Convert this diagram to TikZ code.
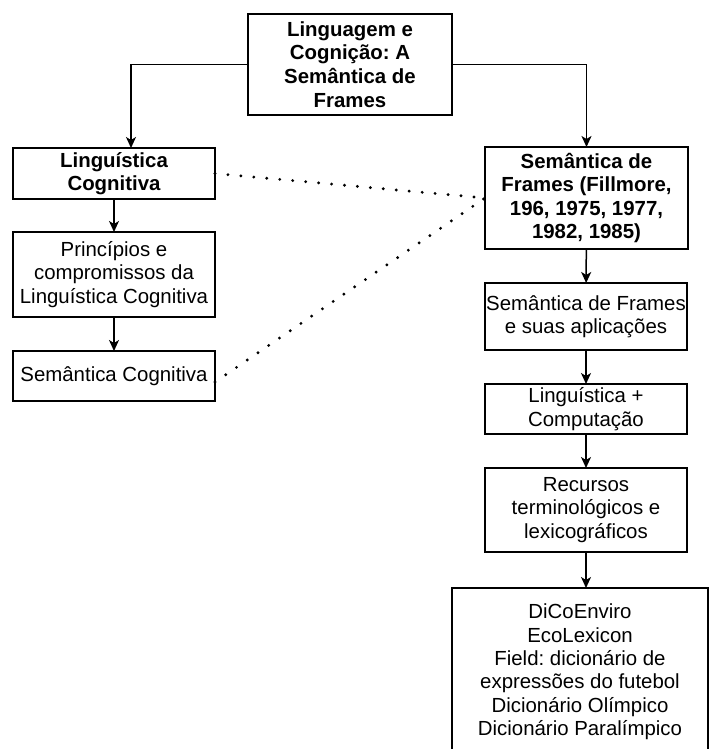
\documentclass[tikz,border=0pt]{standalone}
\usepackage{fontspec}
\setmainfont{Liberation Sans}
\usetikzlibrary{arrows.meta}
\frenchspacing
\begin{document}
\begin{tikzpicture}[x=1pt,y=-1pt,
  box/.style={draw, line width=1.5pt, rectangle, inner sep=0pt, outer sep=0pt,
    align=center, font=\fontsize{20.4}{23.4}\selectfont},
  boldbox/.style={box, font=\fontsize{20.4}{23.6}\selectfont\bfseries},
  flow/.style={line width=1.5pt, -{Stealth[length=11pt,width=10pt,inset=3pt]}},
  link/.style={line width=3.2pt, line cap=round, dash pattern=on 0pt off 13pt}]
\useasboundingbox (0,0) rectangle (710,749);
\fill[white] (0,0) rectangle (710,749);
\begin{scope}
\clip (0,0) rectangle (710,749);

% main topic
\node[boldbox, minimum width=204pt, minimum height=101pt] (top) at (350,64.5)
  {Linguagem e\\Cognição: A\\Semântica de\\Frames};

% left branch
\node[boldbox, minimum width=202pt, minimum height=51pt] (lc) at (114,173.5)
  {Linguística\\Cognitiva};
\node[box, minimum width=202pt, minimum height=85pt] (pc) at (114,274.5)
  {Princípios e\\compromissos da\\Linguística Cognitiva};
\node[box, minimum width=202pt, minimum height=50pt] (sc) at (114,376)
  {Semântica Cognitiva};

% right branch
\node[boldbox, minimum width=203pt, minimum height=102pt] (sf) at (586.5,198)
  {Semântica de\\Frames (Fillmore,\\196, 1975, 1977,\\1982, 1985)};
\node[box, minimum width=202pt, minimum height=67pt] (ap) at (586,316.5)
  {Semântica de Frames\\e suas aplicações};
\node[box, minimum width=202pt, minimum height=50pt] (lcomp) at (586,409)
  {Linguística +\\Computação};
\node[box, minimum width=202pt, minimum height=84pt] (rec) at (586,510)
  {Recursos\\terminológicos e\\lexicográficos};
\node[box, minimum width=256pt, minimum height=168pt, anchor=north west] (dic) at (452,588)
  {DiCoEnviro\\EcoLexicon\\Field: dicionário de\\expressões do futebol\\Dicionário Olímpico\\Dicionário Paralímpico};

% hierarchy arrows
\draw[flow] (top.west) -| ([xshift=17pt]lc.north);
\draw[flow] (top.east) -| (sf.north);
\draw[flow] (lc) -- (pc);
\draw[flow] (pc) -- (sc);
\draw[flow] (sf) -- (ap);
\draw[flow] (ap) -- (lcomp);
\draw[flow] (lcomp) -- (rec);
\draw[flow] (rec.south) -- (rec.south |- dic.north);

% dotted relations
\draw[link] (lc.east) -- (sf.west);
\draw[link] ([yshift=-6pt]sc.east) -- (sf.west);
\end{scope}
\end{tikzpicture}
\end{document}
